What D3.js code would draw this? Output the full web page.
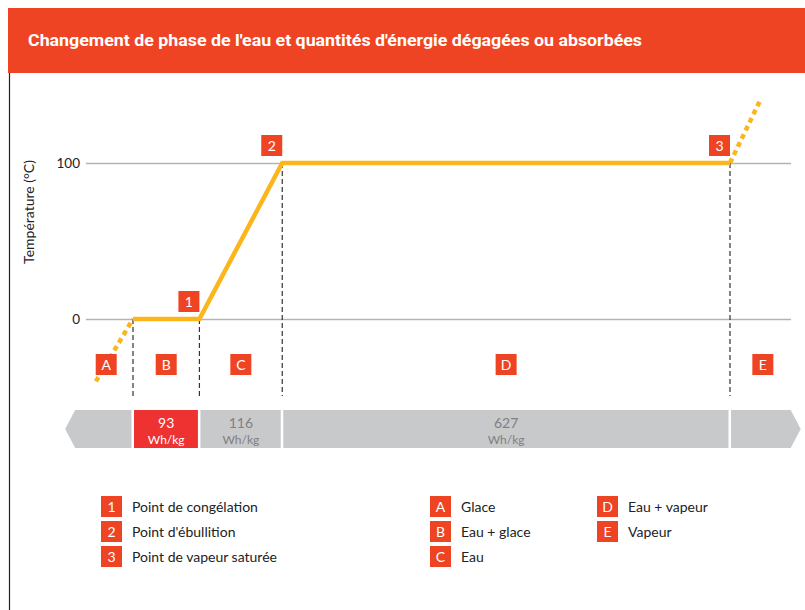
<!DOCTYPE html>
<html><head><meta charset="utf-8">
<script src="https://cdn.jsdelivr.net/npm/d3@7"></script>
<style>html,body{margin:0;padding:0;background:#fff;}svg{display:block;}</style>
</head><body>
<script>
// ---- data ----
const title = "Changement de phase de l'eau et quantités d'énergie dégagées ou absorbées";
const yLabel = "Température (°C)";
const tempTicks = [0, 100];
// curve: cumulative energy (Wh/kg) vs temperature (°C)
const curveSolid = [[0, 0], [93, 0], [209, 100], [836, 100]];
const curveDotLeft = [[-52, -40], [0, 0]];
const curveDotRight = [[836, 100], [878, 140]];
// numbered points
const pointIds = ["1", "2", "3"];
const pointEnergy = [93, 209, 836];
const pointTemp = [0, 100, 100];
// dashed boundaries
const boundaryEnergy = [0, 93, 209, 836];
const boundaryTemp = [0, 0, 100, 100];
// phases
const phaseIds = ["A", "B", "C", "D", "E"];
const phaseStart = [-75, 0, 93, 209, 836];
const phaseEnd = [0, 93, 209, 836, 928];
// energy bar segments
const segStart = [-95, 0, 93, 209, 836];
const segEnd = [0, 93, 209, 836, 935];
const segValue = [null, "93", "116", "627", null];
const segUnit = [null, "Wh/kg", "Wh/kg", "Wh/kg", null];
const segHighlight = [false, true, false, false, false];
// legends
const legendPoints = ["Point de congélation", "Point d'ébullition", "Point de vapeur saturée"];
const legendPhases = ["Glace", "Eau + glace", "Eau", "Eau + vapeur", "Vapeur"];

// ---- drawing ----
const W = 805, H = 610;
const RED = "#EE4423", ORANGE = "#FBB61B", GREY = "#C8C9CB";
const FONT = "Lato, 'Open Sans', sans-serif";
const svg = d3.select("body").append("svg").attr("width", W).attr("height", H);

// header
svg.append("rect").attr("x", 8).attr("y", 8).attr("width", W - 8).attr("height", 65).attr("fill", RED);
svg.append("text").attr("x", 28).attr("y", 46).text(title)
  .attr("fill", "#fff").attr("font-family", "Roboto, sans-serif").attr("font-weight", 700)
  .attr("font-size", 16.5).attr("textLength", 614).attr("lengthAdjust", "spacingAndGlyphs");
svg.append("line").attr("x1", 9.5).attr("x2", 9.5).attr("y1", 73).attr("y2", H).attr("stroke", "#222").attr("stroke-width", 1.2);

const x = d3.scaleLinear().domain([0, 836]).range([133, 730]);
const y = d3.scaleLinear().domain([0, 100]).range([319, 163]);

// grid + ticks
const yAxis = d3.axisLeft(y).tickValues(tempTicks).tickSize(-(791 - 86)).tickPadding(6);
const ga = svg.append("g").attr("transform", "translate(86,0)").call(yAxis);
ga.select(".domain").remove();
ga.selectAll(".tick line").attr("stroke", "#b3b3b3").attr("stroke-width", 1.5);
ga.selectAll(".tick text").attr("font-family", FONT).attr("font-size", 13.5).attr("fill", "#222");

svg.append("text").attr("transform", "translate(33.5,212) rotate(-90)").attr("text-anchor", "middle")
  .attr("font-family", FONT).attr("font-size", 14).attr("fill", "#222").text(yLabel);

// dashed boundaries
svg.selectAll(".bnd").data(boundaryEnergy).join("line")
  .attr("x1", d => x(d)).attr("x2", d => x(d))
  .attr("y1", (d, i) => y(boundaryTemp[i])).attr("y2", 396)
  .attr("stroke", "#333").attr("stroke-width", 1.2).attr("stroke-dasharray", "5,3");

// curve
const line = d3.line().x(d => x(d[0])).y(d => y(d[1]));
svg.append("path").attr("d", line(curveSolid)).attr("fill", "none").attr("stroke", ORANGE)
  .attr("stroke-width", 4.5).attr("stroke-linejoin", "miter");
[curveDotLeft, curveDotRight].forEach(c => {
  svg.append("path").attr("d", line(c)).attr("fill", "none").attr("stroke", ORANGE)
    .attr("stroke-width", 4.5).attr("stroke-dasharray", "5,4");
});

function badge(g, cx, cy, label) {
  g.append("rect").attr("x", cx - 10.5).attr("y", cy - 10.5).attr("width", 21).attr("height", 21).attr("fill", RED);
  g.append("text").attr("x", cx).attr("y", cy + 5).attr("text-anchor", "middle")
    .attr("font-family", FONT).attr("font-size", 14).attr("fill", "#fff").text(label);
}

// numbered point badges
pointIds.forEach((id, i) => badge(svg, x(pointEnergy[i]) - 10.5, y(pointTemp[i]) - 17.5, id));

// phase badges
phaseIds.forEach((id, i) => badge(svg, x((phaseStart[i] + phaseEnd[i]) / 2), 364.5, id));

// energy bar
const barTop = 410, barBot = 448, barMid = (barTop + barBot) / 2, tip = 10;
segStart.forEach((s, i) => {
  const x0 = x(s) + (i === 0 ? 0 : 1), x1 = x(segEnd[i]) - (i === segStart.length - 1 ? 0 : 1.5);
  let pts;
  if (i === 0) pts = [[x0, barMid], [x0 + tip, barTop], [x1, barTop], [x1, barBot], [x0 + tip, barBot]];
  else if (i === segStart.length - 1) pts = [[x0, barTop], [x1 - tip, barTop], [x1, barMid], [x1 - tip, barBot], [x0, barBot]];
  else pts = [[x0, barTop], [x1, barTop], [x1, barBot], [x0, barBot]];
  svg.append("polygon").attr("points", pts.map(p => p.join(",")).join(" "))
    .attr("fill", segHighlight[i] ? "#EE3131" : GREY);
  if (segValue[i]) {
    const cx = (x(s) + x(segEnd[i])) / 2;
    const col = segHighlight[i] ? "#fff" : "#808080";
    svg.append("text").attr("x", cx).attr("y", 428).attr("text-anchor", "middle")
      .attr("font-family", FONT).attr("font-size", 14).attr("fill", col).text(segValue[i]);
    svg.append("text").attr("x", cx).attr("y", 443.5).attr("text-anchor", "middle")
      .attr("font-family", FONT).attr("font-size", 12).attr("fill", col).text(segUnit[i]);
  }
});

// legends
function legendItem(bx, by, id, label) {
  badge(svg, bx + 10.5, by + 10.5, id);
  svg.append("text").attr("x", bx + 31).attr("y", by + 15.5)
    .attr("font-family", FONT).attr("font-size", 14).attr("fill", "#222").text(label);
}
legendPoints.forEach((l, i) => legendItem(101, 496 + i * 25, pointIds[i], l));
legendPhases.forEach((l, i) => {
  const col = Math.floor(i / 3), row = i % 3;
  legendItem(col === 0 ? 430 : 597, 496 + row * 25, phaseIds[i], l);
});
</script>
</body></html>
